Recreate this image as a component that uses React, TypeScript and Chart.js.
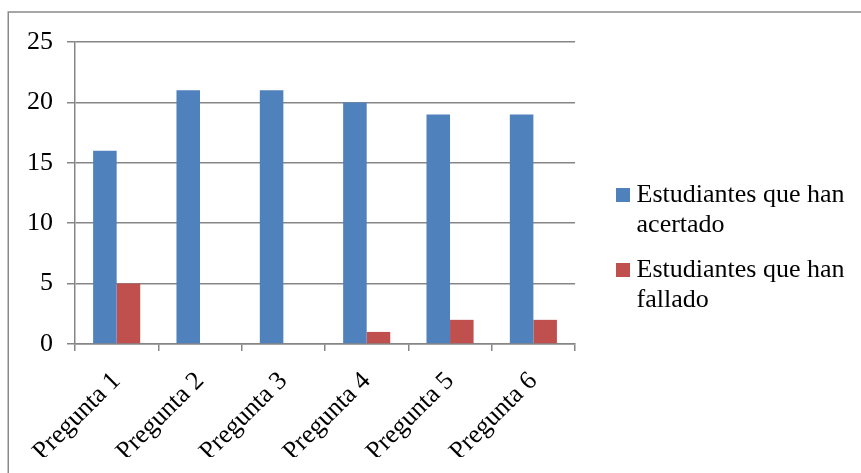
import React, { useEffect, useRef } from 'react';
import { Chart, registerables } from 'chart.js';

Chart.register(...registerables);

// ---- data ----
const categories = ['Pregunta 1', 'Pregunta 2', 'Pregunta 3', 'Pregunta 4', 'Pregunta 5', 'Pregunta 6'];
const acertado = [16, 21, 21, 20, 19, 19];
const fallado = [5, 0, 0, 1, 2, 2];
const seriesNames = ['Estudiantes que han acertado', 'Estudiantes que han fallado'];
const legendLines = [
  ['Estudiantes que han', 'acertado'],
  ['Estudiantes que han', 'fallado'],
];
const seriesColors = ['#4F81BD', '#C0504D'];
const yMin = 0;
const yMax = 25;
const yStep = 5;

// ---- styles ----
const SERIF = '"Liberation Serif", "Times New Roman", "DejaVu Serif", serif';
const GRAY = '#868686';
const W = 861;
const H = 473;

function swatch(color: string, size: number): HTMLCanvasElement {
  const c = document.createElement('canvas');
  c.width = size;
  c.height = size;
  const g = c.getContext('2d');
  if (g) {
    g.fillStyle = color;
    g.fillRect(0, 0, size, size);
  }
  return c;
}

const outerFrame = {
  id: 'outerFrame',
  beforeDraw(chart: any) {
    const ctx = chart.ctx;
    ctx.save();
    ctx.fillStyle = '#ffffff';
    ctx.fillRect(0, 0, chart.width, chart.height);
    ctx.strokeStyle = '#8a8a8a';
    ctx.lineWidth = 1.5;
    ctx.beginPath();
    ctx.moveTo(8.25, chart.height + 4);
    ctx.lineTo(8.25, 12);
    ctx.lineTo(chart.width + 4, 12);
    ctx.stroke();
    ctx.restore();
  },
};

export default function App() {
  const ref = useRef<HTMLCanvasElement | null>(null);

  useEffect(() => {
    if (!ref.current) return;
    const swatches = seriesColors.map((c) => swatch(c, 14));
    const chart = new Chart(ref.current, {
      type: 'bar',
      data: {
        labels: categories,
        datasets: [
          {
            label: seriesNames[0],
            data: acertado,
            backgroundColor: seriesColors[0],
            borderWidth: 0,
            categoryPercentage: 0.565,
            barPercentage: 1,
            xAxisID: 'x',
            yAxisID: 'y',
          },
          {
            label: seriesNames[1],
            data: fallado,
            backgroundColor: seriesColors[1],
            borderWidth: 0,
            categoryPercentage: 0.565,
            barPercentage: 1,
            xAxisID: 'x',
            yAxisID: 'y',
          },
        ],
      },
      options: {
        responsive: false,
        animation: false,
        events: [],
        layout: { padding: { left: 0, top: 42, right: 6.5, bottom: 16 } },
        plugins: {
          tooltip: { enabled: false },
          legend: {
            position: 'right',
            align: 'center',
            maxWidth: 400,
            labels: {
              usePointStyle: true,
              boxWidth: 1,
              boxHeight: 14,
              padding: 15,
              color: '#000000',
              font: { family: SERIF, size: 26, lineHeight: 30 / 26 },
              generateLabels: (ch: any) =>
                ch.data.datasets.map((ds: any, i: number) => ({
                  text: legendLines[i],
                  fillStyle: ds.backgroundColor,
                  strokeStyle: ds.backgroundColor,
                  lineWidth: 0,
                  hidden: false,
                  datasetIndex: i,
                  pointStyle: swatches[i],
                  fontColor: '#000000',
                })),
            },
          },
        },
        scales: {
          x: {
            grid: {
              display: true,
              drawOnChartArea: false,
              drawTicks: true,
              tickLength: 7,
              color: GRAY,
              lineWidth: 1.5,
              offset: true,
            },
            border: { display: true, color: GRAY, width: 1.5 },
            ticks: {
              autoSkip: false,
              minRotation: 45,
              maxRotation: 45,
              padding: 15,
              color: '#000000',
              font: { family: SERIF, size: 26 },
            },
            afterFit: (s: any) => {
              s.height = 113;
            },
          },
          y: {
            min: yMin,
            max: yMax,
            ticks: {
              stepSize: yStep,
              padding: 14,
              color: '#000000',
              font: { family: SERIF, size: 26 },
            },
            grid: { color: GRAY, lineWidth: 1.5, tickLength: 8, drawTicks: true },
            border: { display: true, color: GRAY, width: 1.5 },
            afterFit: (s: any) => {
              s.width = 75;
            },
          },
          gap: {
            type: 'linear',
            position: 'right',
            display: true,
            grid: { display: false },
            border: { display: false },
            ticks: { display: false },
            afterFit: (s: any) => {
              s.width = 32.5;
            },
          },
        },
      } as any,
      plugins: [outerFrame],
    });
    return () => chart.destroy();
  }, []);

  return (
    <canvas
      ref={ref}
      width={W}
      height={H}
      style={{ position: 'absolute', left: 0, top: 0, width: W, height: H, display: 'block' }}
    />
  );
}
